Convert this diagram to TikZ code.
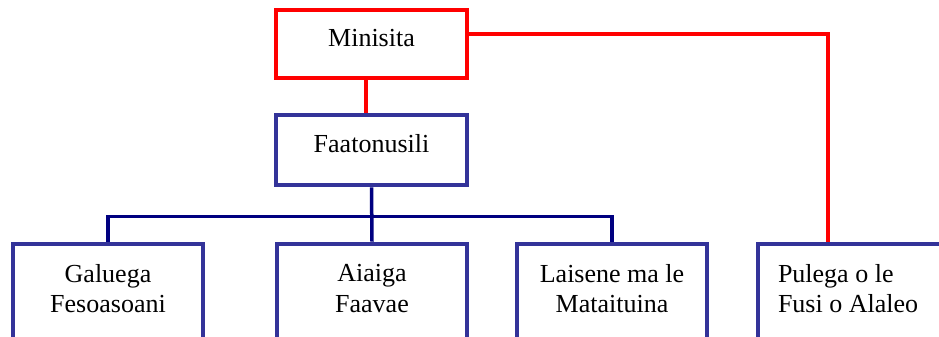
\documentclass[tikz,border=0pt]{standalone}
\usepackage{fontspec}
\setmainfont{Liberation Serif}
\definecolor{BleuBoite}{RGB}{51,51,153}
\definecolor{BleuLigne}{RGB}{0,0,128}

\begin{document}
\begin{tikzpicture}[x=1pt,y=-1pt,every node/.style={font=\fontsize{26}{30.7}\selectfont}]

\useasboundingbox (0,0) rectangle (939,337);
\clip (0,0) rectangle (939,337);
%%%%%%%%%%%%%%%%%%%%%%%%
%Styles des boites
%%%%%%%%%%%%%%%%%%%%%%%%
    \tikzset{
    BoiteRouge/.style={draw=red, line width=4pt, minimum width=191pt, minimum height=68pt, inner sep=0pt, text height=18pt, text depth=12.5pt},
    BoiteHaut/.style={draw=BleuBoite, line width=4pt, minimum width=191pt, minimum height=70pt, inner sep=0pt, text height=18pt, text depth=13.5pt},
    BoiteBas/.style={draw=BleuBoite, line width=4pt, minimum width=190pt, minimum height=100pt, inner sep=0pt, anchor=north, align=center, text depth=10.5pt}
    }
    %Haut de l'organigramme
    \def \Haut {241.7}

    % boites du haut
    \node[BoiteRouge] (Minisita) at (371.5,44) {Minisita};
    \node[BoiteHaut] (Faatonusili) at (371.5,150.3) {Faatonusili};

    % boites du bas
    \node[BoiteBas] (Galuega) at (108,\Haut) {Galuega\\Fesoasoani};
    \node[BoiteBas] (Aiaiga) at (372,\Haut) {Aiaiga\\Faavae};
    \node[BoiteBas] (Laisene) at (612,\Haut) {Laisene ma le\\Mataituina};
    \node[BoiteBas, anchor=north west, minimum width=0pt, text width=170pt, inner xsep=20pt, align=flush left, text depth=41pt] (Pulega) at (756,\Haut) {Pulega o le\\Fusi o Alaleo};

    % liaisons rouges
    \draw[red, line width=3.5pt] ([xshift=-5.5pt]Minisita.south)--([xshift=-5.5pt]Faatonusili.north);
    \draw[red, line width=3.5pt] ([yshift=10pt]Minisita.east) -| ([xshift=72pt]Pulega.north west);

    % liaisons bleues
    \coordinate (Bus) at (372,216.7);
    \draw[BleuLigne, line width=3.5pt] (Faatonusili.south)--(Aiaiga.north);
    \draw[BleuLigne, line width=3.5pt] (Galuega.north) |- (Bus) -| (Laisene.north);

\end{tikzpicture}
\end{document}
